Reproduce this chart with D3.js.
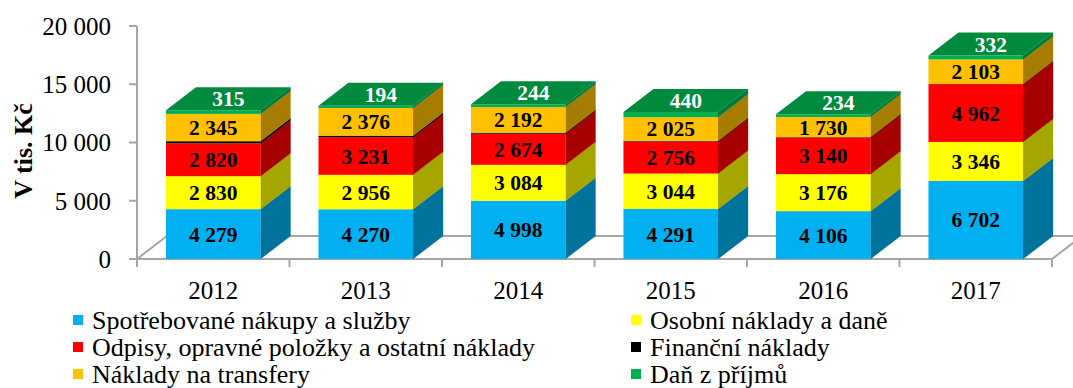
<!DOCTYPE html>
<html>
<head>
<meta charset="utf-8">
<script src="https://cdn.jsdelivr.net/npm/d3@7"></script>
<style>
  html, body { margin: 0; padding: 0; background: #fff; }
  svg { display: block; font-family: "Liberation Serif", "Times New Roman", serif; }
</style>
</head>
<body>
<svg id="chart" width="1073" height="388"></svg>
<script>
// Categories (years) and cost series, in thousands of CZK
const years = ["2012", "2013", "2014", "2015", "2016", "2017"];
const spotrebovane = [4279, 4270, 4998, 4291, 4106, 6702];
const osobni = [2830, 2956, 3084, 3044, 3176, 3346];
const odpisy = [2820, 3231, 2674, 2756, 3140, 4962];
const financni = [180, 130, 90, 60, 40, 20];
const transfery = [2345, 2376, 2192, 2025, 1730, 2103];
const dan = [315, 194, 244, 440, 234, 332];
const yTicks = [0, 5000, 10000, 15000, 20000];

const seriesNames = [
  "Spotřebované nákupy a služby",
  "Osobní náklady a daně",
  "Odpisy, opravné položky a ostatní náklady",
  "Finanční náklady",
  "Náklady na transfery",
  "Daň z příjmů"
];
const seriesValues = [spotrebovane, osobni, odpisy, financni, transfery, dan];
const frontColors = ["#00B0F0", "#FFFF00", "#FF0000", "#000000", "#FFC000", "#00B050"];
const sideColors  = ["#00739C", "#A6A600", "#A60000", "#000000", "#A67D00", "#007A38"];
const topColor = "#008A3E";
const labelColors = ["#000", "#000", "#000", null, "#000", "#fff"];

const svg = d3.select("#chart");
const fmt = d3.formatLocale({ decimal: ",", thousands: "\u00a0", grouping: [3], currency: ["", ""] }).format(",");

// Plot geometry
const x0 = 137, x1 = 1052;
const depthX = 30, depthY = -23;
const y = d3.scaleLinear().domain([0, 20000]).range([259, 26]);
const xBand = d3.scaleBand().domain(years).range([x0, x1]).paddingInner(0.38).paddingOuter(0.19);

// Stacked data
const table = years.map((yr, i) => {
  const row = { year: yr };
  seriesNames.forEach((n, k) => row[k] = seriesValues[k][i]);
  return row;
});
const stack = d3.stack().keys(d3.range(seriesNames.length))(table);

// Floor
const floorColor = "#A6A6A6";
svg.append("path")
  .attr("d", `M${x0},${y(0)} L${x1},${y(0)} L${x1 + depthX},${y(0) + depthY} L${x0 + depthX},${y(0) + depthY} Z`)
  .attr("fill", "#fff").attr("stroke", floorColor).attr("stroke-width", 2);

// Value axis
const axisG = svg.append("g");
axisG.append("line").attr("x1", x0).attr("x2", x0).attr("y1", y(20000)).attr("y2", y(0))
  .attr("stroke", floorColor).attr("stroke-width", 2);
yTicks.forEach(t => {
  axisG.append("line").attr("x1", x0 - 8).attr("x2", x0).attr("y1", y(t)).attr("y2", y(t))
    .attr("stroke", floorColor).attr("stroke-width", 2);
  axisG.append("text")
    .attr("x", x0 - 26).attr("y", y(t))
    .attr("text-anchor", "end").attr("dy", "0.35em")
    .attr("font-size", 25).attr("fill", "#000")
    .text(fmt(t));
});

// Category ticks and labels
const step = (x1 - x0) / years.length;
d3.range(years.length + 1).forEach(i => {
  svg.append("line").attr("x1", x0 + i * step).attr("x2", x0 + i * step)
    .attr("y1", y(0)).attr("y2", y(0) + 8).attr("stroke", floorColor).attr("stroke-width", 2);
});
years.forEach(yr => {
  svg.append("text")
    .attr("x", xBand(yr) + xBand.bandwidth() / 2).attr("y", y(0) + 40)
    .attr("text-anchor", "middle").attr("font-size", 25).text(yr);
});

// Y axis title
svg.append("text")
  .attr("transform", `translate(32,151) rotate(-90)`)
  .attr("text-anchor", "middle").attr("font-size", 26).attr("font-weight", "bold")
  .text("V tis. Kč");

// Bars: side faces, front faces, top face
const bars = svg.append("g");
years.forEach((yr, i) => {
  const bx = xBand(yr), bw = xBand.bandwidth();
  const g = bars.append("g");
  stack.forEach((s, k) => {
    const [a, b] = s[i];
    if (b - a <= 0) return;
    const ya = y(a), yb = y(b);
    g.append("path")
      .attr("d", `M${bx + bw},${ya} L${bx + bw + depthX},${ya + depthY} L${bx + bw + depthX},${yb + depthY} L${bx + bw},${yb} Z`)
      .attr("fill", sideColors[k]).attr("stroke", sideColors[k]).attr("stroke-width", 0.3);
    g.append("rect")
      .attr("x", bx).attr("y", yb).attr("width", bw).attr("height", ya - yb)
      .attr("fill", frontColors[k]);
  });
  const top = stack[stack.length - 1][i][1];
  const yt = y(top);
  g.append("path")
    .attr("d", `M${bx},${yt} L${bx + depthX},${yt + depthY} L${bx + bw + depthX},${yt + depthY} L${bx + bw},${yt} Z`)
    .attr("fill", topColor);

  // Value labels
  stack.forEach((s, k) => {
    if (!labelColors[k]) return;
    const [a, b] = s[i];
    let lx, ly;
    if (k === stack.length - 1) {
      lx = bx + bw / 2 + depthX / 2;
      ly = y(b) + depthY / 2;
    } else {
      lx = bx + bw / 2;
      ly = (y(a) + y(b)) / 2;
    }
    g.append("text")
      .attr("x", lx).attr("y", ly)
      .attr("text-anchor", "middle").attr("dy", "0.35em")
      .attr("font-size", 21.5).attr("font-weight", "bold")
      .attr("fill", labelColors[k])
      .text(fmt(seriesValues[k][i]));
  });
});

// Legend: two columns, three rows
const legend = svg.append("g");
const legendCols = [73, 631];
const legendRows = [329, 356, 383];
seriesNames.forEach((n, k) => {
  const cx = legendCols[k % 2], by = legendRows[Math.floor(k / 2)];
  legend.append("rect").attr("x", cx).attr("y", by - 14).attr("width", 10).attr("height", 10)
    .attr("fill", frontColors[k]);
  legend.append("text")
    .attr("x", cx + 19).attr("y", by)
    .attr("font-size", 26).text(n);
});
</script>
</body>
</html>
